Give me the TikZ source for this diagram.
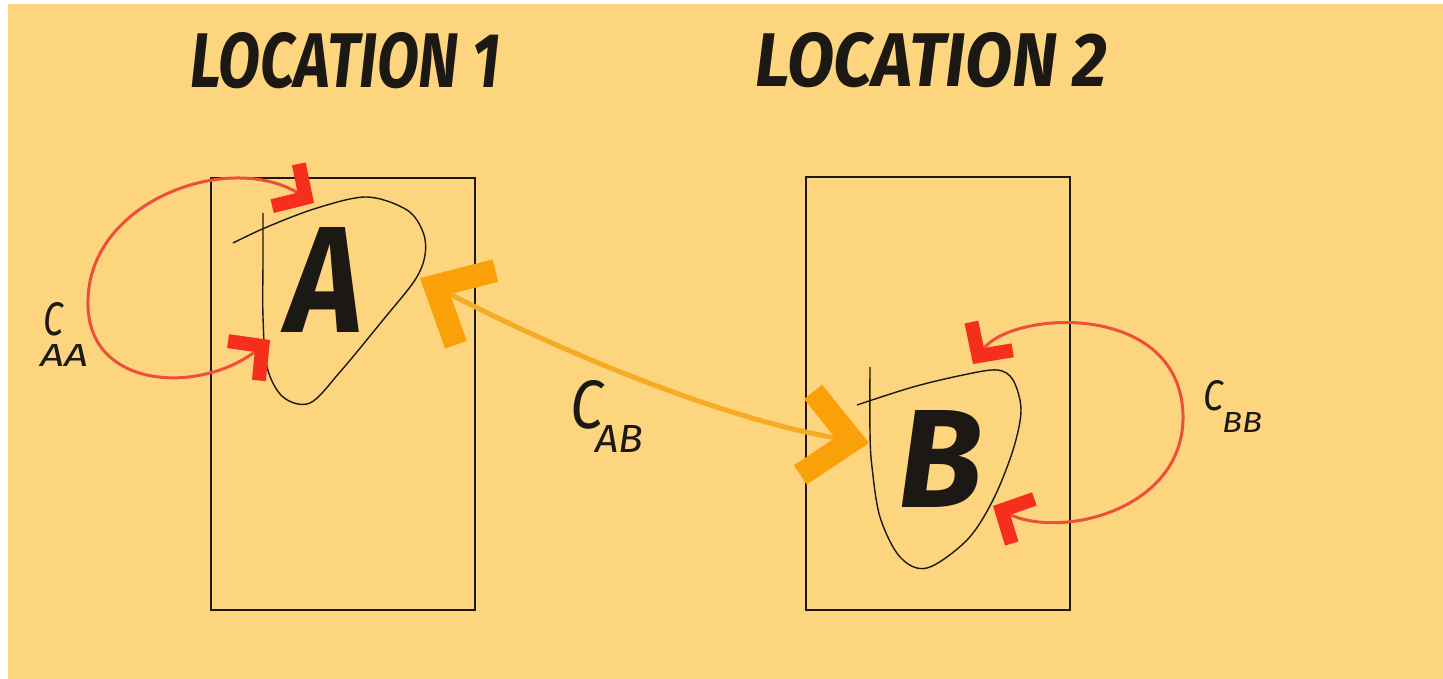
\documentclass[tikz,border=0pt]{standalone}
\usepackage{fontspec}
\setmainfont{Fira Sans}
\usepackage{graphicx}
\usetikzlibrary{arrows.meta}
\definecolor{paper}{RGB}{252,213,126}
\definecolor{inkc}{RGB}{28,24,20}
\definecolor{redline}{RGB}{236,80,58}
\definecolor{redmark}{RGB}{246,46,30}
\definecolor{orline}{RGB}{244,172,36}
\definecolor{ormark}{RGB}{250,160,8}
\tikzset{
  redbarb/.tip={Straight Barb[color=redmark,length=24pt,width=50pt,line width=14pt]},
  orbarb/.tip={Straight Barb[color=ormark,length=46pt,width=84pt,line width=23pt]},
}
\begin{document}
\begin{tikzpicture}[x=1pt,y=-1pt,
  title/.style={inner sep=0pt, text=inkc, font=\bfseries\itshape},
  letter/.style={inner sep=0pt, text=inkc, font=\bfseries\itshape},
  lab/.style={inner sep=0pt, anchor=base west, text=inkc, font=\itshape},
  locbox/.style={draw=inkc, line width=1.9pt, inner sep=0pt},
  blob/.style={draw=inkc, line width=1.4pt, smooth, tension=0.55},
  redloop/.style={draw=redline, line width=3pt, redbarb-redbarb},
  orarrow/.style={draw=orline, line width=5pt, orbarb-orbarb}]
\useasboundingbox (0,0) rectangle (1443,679);
\fill[white] (0,0) rectangle (1443,679);
\fill[paper] (8,4) rectangle (1443,679);

% titles
\node[title, anchor=base west] (loc1) at (190,88) {\resizebox{310pt}{55pt}{LOCATION 1}};
\node[title, anchor=base west] (loc2) at (755,87) {\resizebox{352pt}{54pt}{LOCATION 2}};

% location boxes
\node[locbox, minimum width=264pt, minimum height=432pt] (box1) at (343,394) {};
\node[locbox, minimum width=264pt, minimum height=433pt] (box2) at (938,393.5) {};

% blobs
\draw[blob] plot coordinates {(233,243) (267,227) (317,208) (367,197) (407,210) (423,232) (425,255) (415,280) (383,320) (340,372) (310,403) (283,397) (267,367) (263,317) (263,260) (263,213)};
\draw[blob] plot coordinates {(857,405) (913,387) (963,375) (997,370) (1013,380) (1021,410) (1013,450) (993,500) (967,540) (927,568) (900,557) (880,517) (872,467) (870,433) (870,367)};

% letters
\node[letter, anchor=base west] (a) at (287,332) {\resizebox{75pt}{105pt}{A}};
\node[letter, anchor=base west] (b) at (898,507) {\resizebox{84pt}{97pt}{B}};

% loop at A
\coordinate (aT) at (314,203);
\coordinate (aL) at (270,340);
\draw[redloop] (aL) .. controls (200,395) and (85,390) .. (88,300)
               .. controls (90,200) and (230,150) .. (aT);

% loop at B
\coordinate (bT) at (973,364);
\coordinate (bL) at (993,506);
\draw[redloop] (bT) .. controls (1010,310) and (1180,300) .. (1183,415)
               .. controls (1185,510) and (1060,540) .. (bL);

% A <-> B
\coordinate (abL) at (420,278);
\coordinate (abR) at (869,443);
\draw[orarrow] (abL) .. controls (540,342) and (720,420) .. (abR);

% labels
\node[lab] (caa) at (43,335) {\resizebox{20pt}{33pt}{C}\kern-23pt\raisebox{-32pt}{\resizebox{48pt}{22pt}{AA}}};
\node[lab] (cab) at (570,428) {\resizebox{33pt}{48pt}{C}\kern-8pt\raisebox{-24pt}{\resizebox{48pt}{27pt}{AB}}};
\node[lab] (cbb) at (1203,410) {\resizebox{20pt}{30pt}{C}\kern-1pt\raisebox{-22pt}{\resizebox{40pt}{20pt}{BB}}};
\end{tikzpicture}
\end{document}
